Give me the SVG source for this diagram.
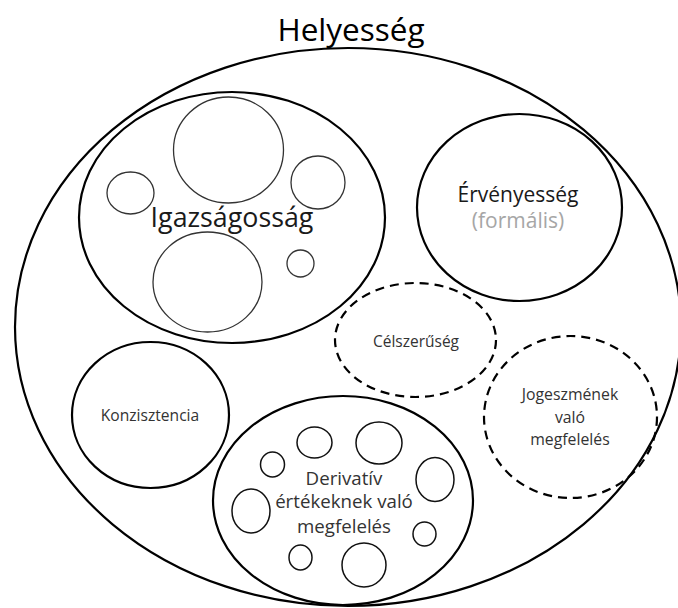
<svg xmlns="http://www.w3.org/2000/svg" width="678" height="608" viewBox="0 0 678 608">
<style>
.big{fill:none;stroke:#000;stroke-width:2.2}
.dash{fill:none;stroke:#000;stroke-width:2.2;stroke-dasharray:9 6}
.thin{fill:none;stroke:#333;stroke-width:1.3}
.mid{fill:none;stroke:#111;stroke-width:1.5}
text{font-family:"Open Sans","Noto Sans","Liberation Sans",sans-serif;text-anchor:middle}
.t{fill:#333}
</style>
<rect width="678" height="608" fill="#fff"/>
<g id="helyesseg">
<ellipse class="big" cx="348" cy="327" rx="333" ry="279"/>
<text x="351" y="41" font-size="31.5" fill="#000">Helyesség</text>
</g>
<g id="igazsagossag">
<ellipse class="big" cx="232" cy="217.5" rx="153" ry="125.5"/>
<ellipse class="thin" cx="228.5" cy="150" rx="55" ry="53"/>
<ellipse class="thin" cx="318" cy="182.5" rx="27" ry="26.5"/>
<ellipse class="thin" cx="130.5" cy="193" rx="23.5" ry="21"/>
<ellipse class="thin" cx="207.5" cy="282" rx="54.5" ry="50"/>
<ellipse class="thin" cx="300.5" cy="263.5" rx="13.5" ry="13.5"/>
<text x="232" y="227" font-size="26.8" fill="#1a1a1a">Igazságosság</text>
</g>
<g id="ervenyesseg">
<ellipse class="big" cx="519.5" cy="207.5" rx="102.5" ry="93.5"/>
<text x="518" y="202" font-size="21" fill="#1a1a1a">Érvényesség</text>
<text x="518" y="228" font-size="21" fill="#a6a6a6">(formális)</text>
</g>
<g id="celszeruseg">
<ellipse class="dash" cx="415.5" cy="340" rx="80.5" ry="57"/>
<text class="t" x="416" y="347" font-size="15.5">Célszerűség</text>
</g>
<g id="jogeszme">
<ellipse class="dash" cx="570.5" cy="417" rx="86.5" ry="81"/>
<text class="t" x="570" y="400" font-size="15.8">Jogeszmének</text>
<text class="t" x="570" y="423" font-size="15.8">való</text>
<text class="t" x="570" y="445" font-size="15.8">megfelelés</text>
</g>
<g id="konzisztencia">
<ellipse class="big" cx="150.5" cy="415" rx="78.5" ry="73"/>
<text class="t" x="150" y="421" font-size="15.6">Konzisztencia</text>
</g>
<g id="derivativ">
<ellipse class="big" cx="343" cy="500.5" rx="130" ry="104.5"/>
<ellipse class="mid" cx="314.5" cy="442.5" rx="17.5" ry="15.5"/>
<ellipse class="mid" cx="379" cy="443" rx="23" ry="21"/>
<ellipse class="mid" cx="272.5" cy="464.5" rx="12" ry="12.5"/>
<ellipse class="mid" cx="435" cy="479.5" rx="19" ry="22"/>
<ellipse class="mid" cx="251" cy="511" rx="19" ry="22"/>
<ellipse class="mid" cx="424.5" cy="534" rx="11.5" ry="12"/>
<ellipse class="mid" cx="300.5" cy="557.5" rx="11.5" ry="12.5"/>
<ellipse class="mid" cx="364" cy="565" rx="22" ry="22"/>
<text class="t" x="344" y="485" font-size="18.7">Derivatív</text>
<text class="t" x="344" y="508" font-size="18.7">értékeknek való</text>
<text class="t" x="344" y="533" font-size="18.7">megfelelés</text>
</g>
</svg>
